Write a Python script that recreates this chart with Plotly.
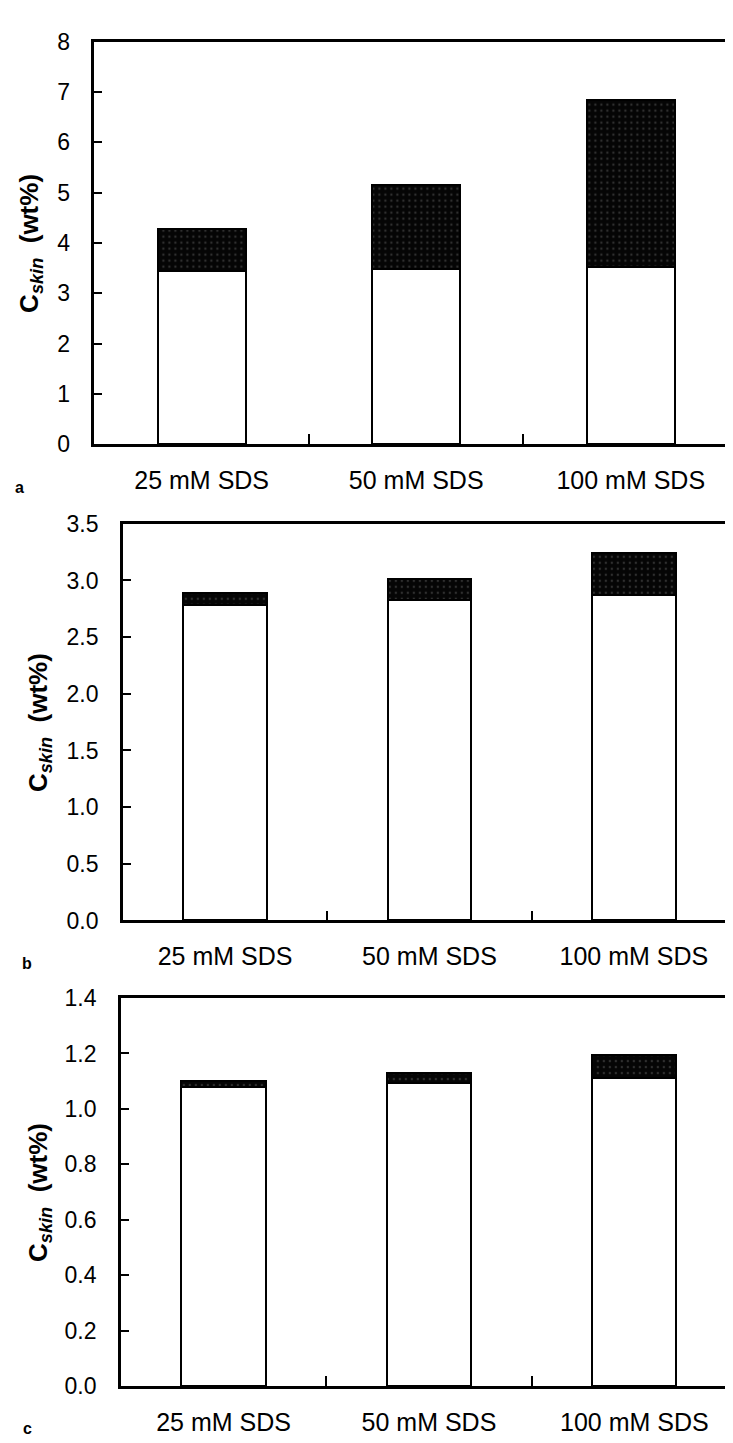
import plotly.graph_objects as go

categories = ["25 mM SDS", "50 mM SDS", "100 mM SDS"]

# Panel a
a_base = [3.45, 3.49, 3.53]
a_total = [4.27, 5.15, 6.85]
# Panel b
b_base = [2.78, 2.83, 2.87]
b_total = [2.885, 3.01, 3.24]
# Panel c
c_base = [1.078, 1.092, 1.113]
c_total = [1.102, 1.131, 1.194]

panels = [
    ("a", a_base, a_total, [0, 8], 1, "d"),
    ("b", b_base, b_total, [0, 3.5], 0.5, ".1f"),
    ("c", c_base, c_total, [0, 1.4], 0.2, ".1f"),
]

W, H = 733, 1443
# pixel layout: (left, right, top, bottom, title_x, letter_x, letter_y)
geom = [
    (86.5, 731, 21, 431, 23, 12, 475),
    (115, 729, 512, 916, 31, 19, 960),
    (113, 730, 995, 1390, 31, 20, 1433),
]

FONT = "Liberation Sans, Arial, Helvetica"

fig = go.Figure()
for i, ((lab, base, total, rng, dt, fmt), (l, r, t, b, tx, lx, ly)) in enumerate(zip(panels, geom)):
    ax = "" if i == 0 else str(i + 1)
    top = [tt - bb for tt, bb in zip(total, base)]
    fig.add_trace(go.Bar(x=categories, y=base, xaxis="x" + ax, yaxis="y" + ax,
                         width=0.41, marker=dict(color="white", line=dict(color="black", width=2)),
                         showlegend=False))
    fig.add_trace(go.Bar(x=categories, y=top, xaxis="x" + ax, yaxis="y" + ax,
                         width=0.41,
                         marker=dict(color="#050505", line=dict(color="black", width=2),
                                     pattern=dict(shape=".", bgcolor="#050505", fgcolor="#5a5a5a",
                                                  size=6, solidity=0.12)),
                         showlegend=False))
    xd = [l / W, r / W]
    yd = [1 - b / H, 1 - t / H]
    fig.update_layout(**{
        "xaxis" + ax: dict(domain=xd, anchor="y" + ax, showline=True, linecolor="black", linewidth=2.5,
                           mirror=True, ticks="inside", tickson="boundaries", ticklen=10,
                           tickcolor="black", tickwidth=2, ticklabelstandoff=12,
                           tickfont=dict(family=FONT, size=25, color="black"), showgrid=False),
        "yaxis" + ax: dict(domain=yd, anchor="x" + ax, range=rng, dtick=dt, tickformat=fmt,
                           showline=True, linecolor="black", linewidth=2.5, mirror=True,
                           ticks="inside", ticklen=8, tickcolor="black", tickwidth=2,
                           ticklabelstandoff=17,
                           tickfont=dict(family=FONT, size=23, color="black"),
                           showgrid=False, zeroline=False),
    })
    # y title
    fig.add_annotation(text="<b>C<sub><i>skin</i></sub>  (wt%)</b>", xref="paper", yref="paper",
                       x=tx / W, y=sum(yd) / 2, textangle=-90,
                       showarrow=False, xanchor="center", yanchor="middle",
                       font=dict(family=FONT, size=26, color="black"))
    # panel letter
    fig.add_annotation(text="<b>%s</b>" % lab, xref="paper", yref="paper",
                       x=lx / W, y=1 - ly / H, showarrow=False,
                       xanchor="center", yanchor="middle",
                       font=dict(family=FONT, size=16, color="black"))

fig.update_layout(barmode="stack", width=W, height=H, margin=dict(l=0, r=0, t=0, b=0),
                  paper_bgcolor="white", plot_bgcolor="white")
fig.write_html("out.html")
